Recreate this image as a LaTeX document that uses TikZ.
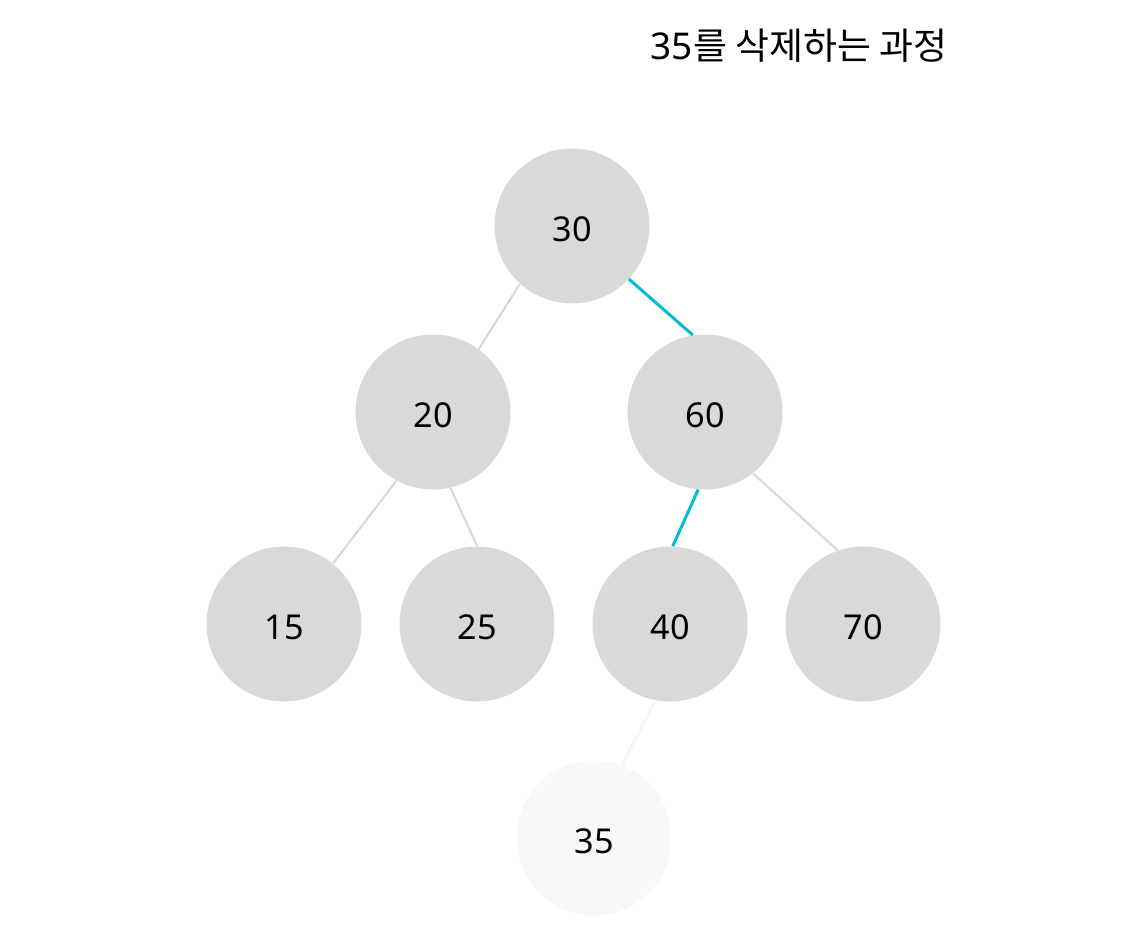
\documentclass[tikz,border=0pt]{standalone}
\usepackage{fontspec}
\setmainfont{Noto Sans}
\newfontfamily\krfont{Noto Sans CJK KR}
\definecolor{nodegray}{HTML}{D9D9D9}
\definecolor{fadegray}{HTML}{F8F8F8}
\definecolor{pathcyan}{HTML}{00BCD4}
\begin{document}
\begin{tikzpicture}[x=0.02cm,y=-0.02cm,
  keynode/.style={circle, fill=nodegray, minimum size=3.1cm, inner sep=0pt, text height=17.4pt, text depth=0pt, font=\fontsize{19.5}{23}\selectfont},
  gonenode/.style={keynode, fill=fadegray},
  edge/.style={draw=nodegray, line width=1.2pt},
  pathedge/.style={draw=pathcyan, line width=1.7pt},
  goneedge/.style={draw=fadegray!90!nodegray, line width=1.2pt}]
\useasboundingbox (0,0) rectangle (1128,950);
\node[font=\fontsize{21}{25}\selectfont] (title) at (799,46) {35{\krfont 를 삭제하는 과정}};
\node[keynode] (n30) at (572,226) {30};
\node[keynode] (n20) at (433,412) {20};
\node[keynode] (n60) at (705,412) {60};
\node[keynode] (n15) at (284,624) {15};
\node[keynode] (n25) at (477,624) {25};
\node[keynode] (n40) at (670,624) {40};
\node[keynode] (n70) at (863,624) {70};
\node[gonenode] (n35) at (594,838) {35};
\draw[edge] (n30.-132) -- (n20.54);
\draw[pathedge] (n30.-43) -- (n60.99);
\draw[edge] (n20.-118) -- (n15.51);
\draw[edge] (n20.-77) -- (n25.90);
\draw[pathedge] (n60.-95) -- (n40.88);
\draw[edge] (n60.-52) -- (n70.109);
\draw[goneedge] (n40.-101) -- (n35.69);
\end{tikzpicture}
\end{document}
